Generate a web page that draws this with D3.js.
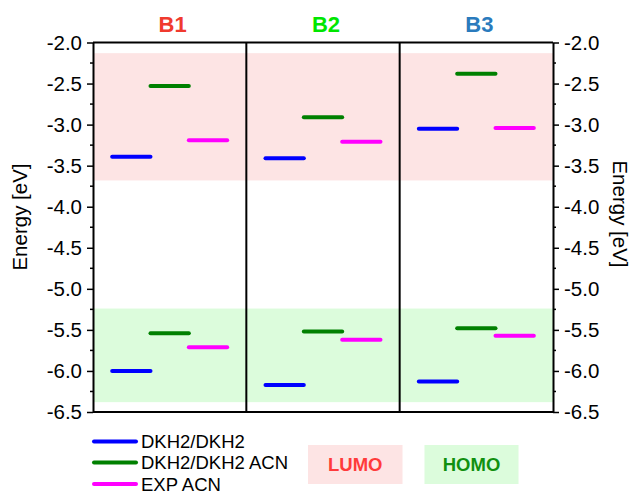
<!DOCTYPE html>
<html>
<head>
<meta charset="utf-8">
<script src="https://cdn.jsdelivr.net/npm/d3@7"></script>
<style>
  body { margin: 0; background: #fff; }
  svg { display: block; font-family: "Liberation Sans", Arial, sans-serif; }
</style>
</head>
<body>
<svg id="chart" width="632" height="494"></svg>
<script>
// ---- data ----
const categories = ["B1", "B2", "B3"];
const seriesNames = ["DKH2/DKH2", "DKH2/DKH2 ACN", "EXP ACN"];
const lumoDKH2 = [-3.39, -3.41, -3.05];
const lumoDKH2ACN = [-2.53, -2.91, -2.38];
const lumoEXP = [-3.19, -3.21, -3.04];
const homoDKH2 = [-6.00, -6.17, -6.13];
const homoDKH2ACN = [-5.54, -5.52, -5.48];
const homoEXP = [-5.71, -5.62, -5.57];
const lumoBand = [-2.13, -3.68];
const homoBand = [-5.24, -6.38];
const yTicks = [-2.0, -2.5, -3.0, -3.5, -4.0, -4.5, -5.0, -5.5, -6.0, -6.5];
const titleColors = ["#f03a2e", "#00e600", "#2a7bbd"];
const seriesColors = ["#0000ff", "#008000", "#ff00ff"];

const seriesValues = [
  lumoDKH2.map((v, i) => ({cat: categories[i], s: 0, v})),
  lumoDKH2ACN.map((v, i) => ({cat: categories[i], s: 1, v})),
  lumoEXP.map((v, i) => ({cat: categories[i], s: 2, v})),
  homoDKH2.map((v, i) => ({cat: categories[i], s: 0, v})),
  homoDKH2ACN.map((v, i) => ({cat: categories[i], s: 1, v})),
  homoEXP.map((v, i) => ({cat: categories[i], s: 2, v}))
].flat();

// ---- layout ----
const L = 93, R = 553, T = 42.5, B = 412;
const svg = d3.select("#chart");

const y = d3.scaleLinear().domain([-6.5, -2.0]).range([B, T]);
const x = d3.scaleBand().domain(categories).range([L, R]).padding(0);
const xi = d3.scalePoint().domain(seriesNames).range([0, x.bandwidth()]).padding(1);
const halfLen = x.bandwidth() * 0.125;

// bands
svg.append("rect").attr("x", L).attr("width", R - L)
  .attr("y", y(lumoBand[0])).attr("height", y(lumoBand[1]) - y(lumoBand[0]))
  .attr("fill", "#fde4e4");
svg.append("rect").attr("x", L).attr("width", R - L)
  .attr("y", y(homoBand[0])).attr("height", y(homoBand[1]) - y(homoBand[0]))
  .attr("fill", "#dcfcdc");

// level lines
svg.append("g").selectAll("line").data(seriesValues).join("line")
  .attr("x1", d => x(d.cat) + xi(seriesNames[d.s]) - halfLen)
  .attr("x2", d => x(d.cat) + xi(seriesNames[d.s]) + halfLen)
  .attr("y1", d => y(d.v)).attr("y2", d => y(d.v))
  .attr("stroke", d => seriesColors[d.s])
  .attr("stroke-width", 4)
  .attr("stroke-linecap", "round");

// panel dividers
svg.append("g").selectAll("line").data(categories.slice(1)).join("line")
  .attr("x1", d => x(d)).attr("x2", d => x(d))
  .attr("y1", T).attr("y2", B)
  .attr("stroke", "#000").attr("stroke-width", 2);

// frame
svg.append("line").attr("x1", L).attr("x2", R).attr("y1", T).attr("y2", T).attr("stroke", "#000").attr("stroke-width", 2);
svg.append("line").attr("x1", L).attr("x2", R).attr("y1", B).attr("y2", B).attr("stroke", "#000").attr("stroke-width", 2);

// axes
const fmt = d => d.toFixed(1);
const minor = d3.range(-6.25, -2.0, 0.5);
function styleAxis(g) {
  g.select(".domain").attr("stroke-width", 2);
  g.selectAll(".tick line").attr("stroke-width", 1.5);
  g.selectAll("text").attr("font-size", 20.5).attr("fill", "#000")
    .attr("font-family", "'Liberation Sans', Arial, sans-serif");
}
const left = svg.append("g").attr("transform", `translate(${L},0)`)
  .call(d3.axisLeft(y).tickValues(yTicks).tickFormat(fmt).tickSize(6).tickPadding(5).tickSizeOuter(0));
styleAxis(left);
left.append("g").selectAll("line").data(minor).join("line")
  .attr("x1", 0).attr("x2", -3).attr("y1", d => y(d)).attr("y2", d => y(d))
  .attr("stroke", "#000").attr("stroke-width", 1.5);

const right = svg.append("g").attr("transform", `translate(${R},0)`)
  .call(d3.axisRight(y).tickValues(yTicks).tickFormat(fmt).tickSize(6).tickPadding(5).tickSizeOuter(0));
styleAxis(right);
right.append("g").selectAll("line").data(minor).join("line")
  .attr("x1", 0).attr("x2", 3).attr("y1", d => y(d)).attr("y2", d => y(d))
  .attr("stroke", "#000").attr("stroke-width", 1.5);

// axis titles
svg.append("text").attr("transform", "translate(27,217) rotate(-90)")
  .attr("text-anchor", "middle").attr("font-size", 20.5).text("Energy [eV]");
svg.append("text").attr("transform", "translate(613,214) rotate(90)")
  .attr("text-anchor", "middle").attr("font-size", 20.5).text("Energy [eV]");

// panel titles
svg.append("g").selectAll("text").data(categories).join("text")
  .attr("x", d => x(d) + x.bandwidth() / 2 + 3)
  .attr("y", 32)
  .attr("text-anchor", "middle")
  .attr("font-size", 22).attr("font-weight", "bold")
  .attr("fill", (d, i) => titleColors[i])
  .text(d => d);

// legend
const lg = svg.append("g");
const legendY = [441.5, 462.5, 484];
seriesNames.forEach((s, i) => {
  lg.append("line").attr("x1", 94).attr("x2", 136)
    .attr("y1", legendY[i]).attr("y2", legendY[i])
    .attr("stroke", seriesColors[i]).attr("stroke-width", 4).attr("stroke-linecap", "round");
  lg.append("text").attr("x", 141).attr("y", legendY[i] + 6.5)
    .attr("font-size", 18.5).text(s);
});

// LUMO / HOMO boxes
const boxes = [
  {label: "LUMO", x0: 308, x1: 402.5, fill: "#fde4e4", color: "#ff3b3b"},
  {label: "HOMO", x0: 424.5, x1: 518.5, fill: "#dcfcdc", color: "#109010"}
];
boxes.forEach(b => {
  svg.append("rect").attr("x", b.x0).attr("y", 445).attr("width", b.x1 - b.x0).attr("height", 39)
    .attr("fill", b.fill);
  svg.append("text").attr("x", (b.x0 + b.x1) / 2).attr("y", 471)
    .attr("text-anchor", "middle").attr("font-size", 18.5).attr("font-weight", "bold")
    .attr("fill", b.color).text(b.label);
});
</script>
</body>
</html>
